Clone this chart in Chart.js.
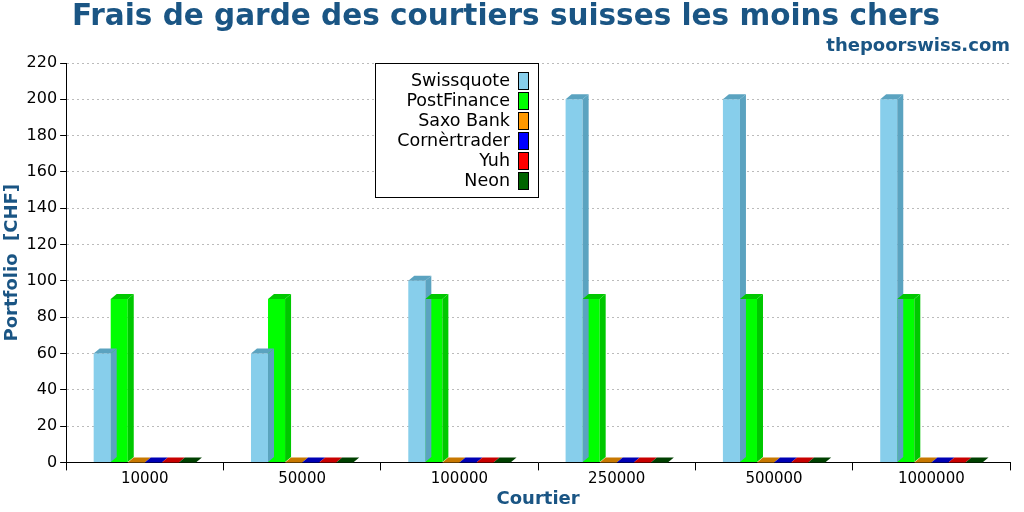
<!DOCTYPE html>
<html><head><meta charset="utf-8">
<script src="https://cdn.jsdelivr.net/npm/chart.js@4"></script>
<style>html,body{margin:0;padding:0;background:#fff}#w{width:1024px;height:512px}</style>
</head><body><div id="w"><canvas id="c"></canvas></div>
<script>
const categories = ['10000','50000','100000','250000','500000','1000000'];
const seriesNames = ['Swissquote','PostFinance','Saxo Bank','Cornèrtrader','Yuh','Neon'];
const swissquote = [60,60,100,200,200,200];
const postfinance = [90,90,90,90,90,90];
const saxo = [0,0,0,0,0,0];
const corner = [0,0,0,0,0,0];
const yuh = [0,0,0,0,0,0];
const neon = [0,0,0,0,0,0];
const colors = ['#87ceeb','#00ff00','#ff9900','#0000ff','#ff0000','#006400'];
const sideColors = ['#5ba3c0','#00c800','#c87800','#0000b4','#c80000','#004000'];
const values = [swissquote,postfinance,saxo,corner,yuh,neon];
const titleColor = '#1a5584';
const DX = 6, DY = 5;

const bar3d = {
  id:'bar3d',
  afterDatasetsDraw(chart){
    const ctx = chart.ctx;
    chart.data.datasets.forEach((ds,i)=>{
      chart.getDatasetMeta(i).data.forEach(b=>{
        const l=b.x-b.width/2, r=b.x+b.width/2, t=b.y, bo=b.base;
        ctx.save();
        ctx.fillStyle=sideColors[i];
        ctx.beginPath();ctx.moveTo(r,t);ctx.lineTo(r+DX,t-DY);ctx.lineTo(r+DX,bo-DY);ctx.lineTo(r,bo);ctx.closePath();ctx.fill();
        ctx.beginPath();ctx.moveTo(l,t);ctx.lineTo(l+DX,t-DY);ctx.lineTo(r+DX,t-DY);ctx.lineTo(r,t);ctx.closePath();ctx.fill();
        ctx.restore();
      });
    });
  },
  afterDraw(chart){
    const ctx=chart.ctx;
    ctx.save();
    const bx=375,by=63,bw=163,bh=134;
    ctx.fillStyle='#fff';ctx.fillRect(bx,by,bw,bh);
    ctx.strokeStyle='#000';ctx.lineWidth=1;ctx.strokeRect(bx+0.5,by+0.5,bw,bh);
    ctx.font='17.5px "DejaVu Sans"';ctx.textAlign='right';ctx.textBaseline='middle';
    seriesNames.forEach((n,i)=>{
      const y=by+18+i*20;
      ctx.fillStyle='#000';ctx.fillText(n,bx+135,y);
      ctx.fillStyle=colors[i];ctx.fillRect(bx+143,y-8,10,17);
      ctx.strokeRect(bx+143.5,y-8.5,10,17);
    });
    ctx.restore();
  }
};

new Chart(document.getElementById('c'),{
  type:'bar',
  data:{labels:categories,datasets:seriesNames.map((n,i)=>({label:n,data:values[i],backgroundColor:colors[i],categoryPercentage:0.65,barPercentage:1,minBarLength:0}))},
  options:{
    responsive:true,maintainAspectRatio:false,animation:false,
    layout:{padding:{left:2,right:14,top:0,bottom:2}},
    plugins:{
      legend:{display:false},tooltip:{enabled:false},
      title:{display:true,text:'Frais de garde des courtiers suisses les moins chers',color:titleColor,font:{family:'DejaVu Sans',size:29.5,weight:'bold'},padding:{top:0,bottom:0}},
      subtitle:{display:true,text:'thepoorswiss.com',align:'end',color:titleColor,font:{family:'DejaVu Sans',size:18,weight:'bold'},padding:{top:0,bottom:6}}
    },
    scales:{
      x:{grid:{offset:true,drawOnChartArea:false,color:'#000',tickLength:8},border:{color:'#000'},
         ticks:{color:'#000',font:{family:'DejaVu Sans',size:15},padding:0},
         title:{display:true,text:'Courtier',color:titleColor,font:{family:'DejaVu Sans',size:18,weight:'bold'},padding:{top:0,bottom:0}}},
      y:{min:0,max:220,ticks:{stepSize:20,color:'#000',font:{family:'DejaVu Sans',size:16},padding:3},
         grid:{color:'#bbb',tickLength:6,tickColor:'#000'},border:{color:'#000',dash:[2,3]},
         title:{display:true,text:'Portfolio  [CHF]',color:titleColor,font:{family:'DejaVu Sans',size:18,weight:'bold'},padding:{top:0,bottom:0}}}
    }
  },
  plugins:[bar3d]
});
</script></body></html>
